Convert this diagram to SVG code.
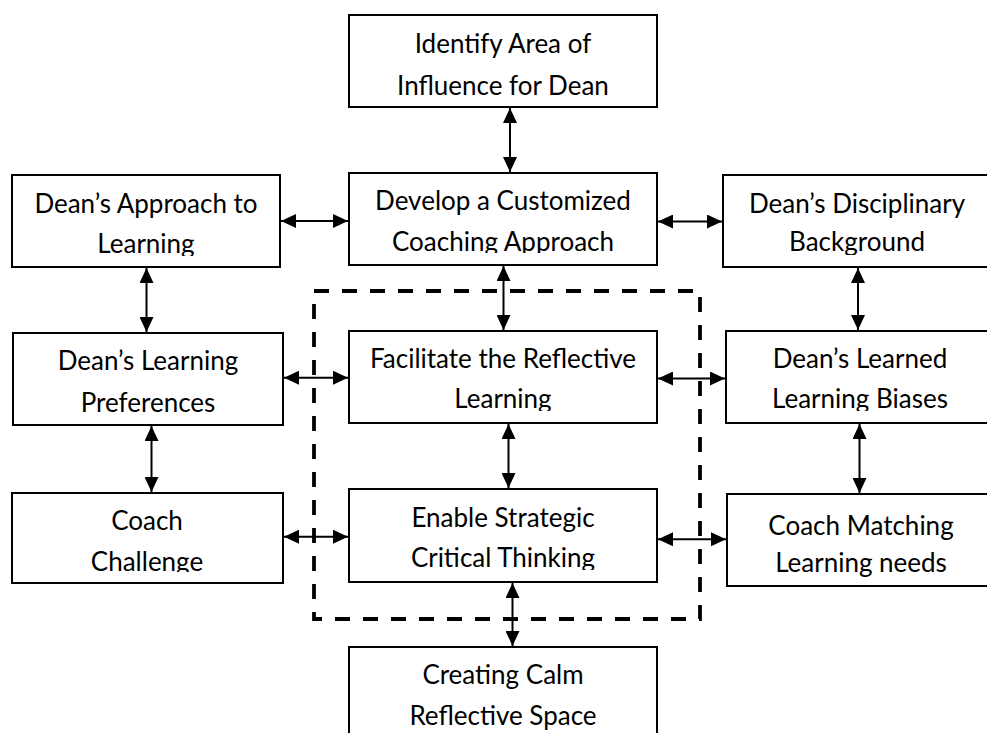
<svg xmlns="http://www.w3.org/2000/svg" width="987" height="733" viewBox="0 0 987 733">
<style>
.box{fill:#fff;stroke:#000;stroke-width:2}
.t{font-family:Lato,"Liberation Sans",sans-serif;font-size:26px;fill:#000;text-anchor:middle}
.c{stroke:#000;stroke-width:2;fill:none;marker-start:url(#ah);marker-end:url(#ah)}
.dash{fill:none;stroke:#000;stroke-width:3.8;stroke-dasharray:15 13}
</style>
<defs>
<marker id="ah" viewBox="0 0 15 14" refX="15" refY="7" markerWidth="15" markerHeight="14" markerUnits="userSpaceOnUse" orient="auto-start-reverse">
<path d="M0,0 L15,7 L0,14 Z" fill="#000"/>
</marker>
<clipPath id="cDev"><rect x="349" y="173" width="308" height="80"/></clipPath>
<clipPath id="cApp"><rect x="12" y="175" width="268" height="81"/></clipPath>
<clipPath id="cDis"><rect x="723" y="175" width="270" height="80"/></clipPath>
<clipPath id="cFac"><rect x="349" y="331" width="308" height="80"/></clipPath>
<clipPath id="cLrn"><rect x="725" y="331" width="270" height="80"/></clipPath>
<clipPath id="cCch"><rect x="12" y="492" width="271" height="80"/></clipPath>
<clipPath id="cEna"><rect x="349" y="489" width="308" height="81"/></clipPath>
</defs>

<rect class="dash" x="314" y="291" width="386" height="328"/>

<g id="identify">
<rect class="box" x="349" y="15" width="308" height="92"/>
<text class="t" x="503" y="53">Identify Area of</text>
<text class="t" x="503" y="95">Influence for Dean</text>
</g>
<g id="develop">
<rect class="box" x="349" y="173" width="308" height="92"/>
<g clip-path="url(#cDev)">
<text class="t" x="503" y="210">Develop a Customized</text>
<text class="t" x="503" y="251">Coaching Approach</text>
</g>
</g>
<g id="approach">
<rect class="box" x="12" y="175" width="268" height="92"/>
<g clip-path="url(#cApp)">
<text class="t" x="146" y="213">Dean’s Approach to</text>
<text class="t" x="146" y="253">Learning</text>
</g>
</g>
<g id="disciplinary">
<rect class="box" x="723" y="175" width="270" height="92"/>
<g clip-path="url(#cDis)">
<text class="t" x="857" y="213">Dean’s Disciplinary</text>
<text class="t" x="857" y="251">Background</text>
</g>
</g>
<g id="preferences">
<rect class="box" x="13" y="333" width="270" height="92"/>
<text class="t" x="148" y="370">Dean’s Learning</text>
<text class="t" x="148" y="412">Preferences</text>
</g>
<g id="facilitate">
<rect class="box" x="349" y="331" width="308" height="92"/>
<g clip-path="url(#cFac)">
<text class="t" x="503" y="368">Facilitate the Reflective</text>
<text class="t" x="503" y="408">Learning</text>
</g>
</g>
<g id="learned">
<rect class="box" x="726" y="331" width="268" height="92"/>
<g clip-path="url(#cLrn)">
<text class="t" x="860" y="368">Dean’s Learned</text>
<text class="t" x="860" y="408">Learning Biases</text>
</g>
</g>
<g id="coach">
<rect class="box" x="12" y="493" width="271" height="90"/>
<g clip-path="url(#cCch)">
<text class="t" x="147" y="530">Coach</text>
<text class="t" x="147" y="571">Challenge</text>
</g>
</g>
<g id="enable">
<rect class="box" x="349" y="489" width="308" height="93"/>
<g clip-path="url(#cEna)">
<text class="t" x="503" y="527">Enable Strategic</text>
<text class="t" x="503" y="567">Critical Thinking</text>
</g>
</g>
<g id="matching">
<rect class="box" x="727" y="494" width="268" height="92"/>
<text class="t" x="861" y="535">Coach Matching</text>
<text class="t" x="861" y="572">Learning needs</text>
</g>
<g id="creating">
<rect class="box" x="349" y="647" width="308" height="95"/>
<text class="t" x="503" y="684">Creating Calm</text>
<text class="t" x="503" y="725">Reflective Space</text>
</g>

<g id="connectors">
<line class="c" x1="510" y1="108" x2="510" y2="172"/>
<line class="c" x1="281" y1="221" x2="348" y2="221"/>
<line class="c" x1="658" y1="221.5" x2="722" y2="221.5"/>
<line class="c" x1="146.5" y1="268" x2="146.5" y2="332"/>
<line class="c" x1="858" y1="268" x2="858" y2="330"/>
<line class="c" x1="503.5" y1="266" x2="503.5" y2="330"/>
<line class="c" x1="284" y1="377.7" x2="348" y2="377.7"/>
<line class="c" x1="658" y1="378.5" x2="725" y2="378.5"/>
<line class="c" x1="151.5" y1="426" x2="151.5" y2="492"/>
<line class="c" x1="508.5" y1="424" x2="508.5" y2="488"/>
<line class="c" x1="859.5" y1="424" x2="859.5" y2="493"/>
<line class="c" x1="284" y1="536.7" x2="348" y2="536.7"/>
<line class="c" x1="658" y1="539.3" x2="726" y2="539.3"/>
<line class="c" x1="512.5" y1="583" x2="512.5" y2="646"/>
</g>
</svg>
